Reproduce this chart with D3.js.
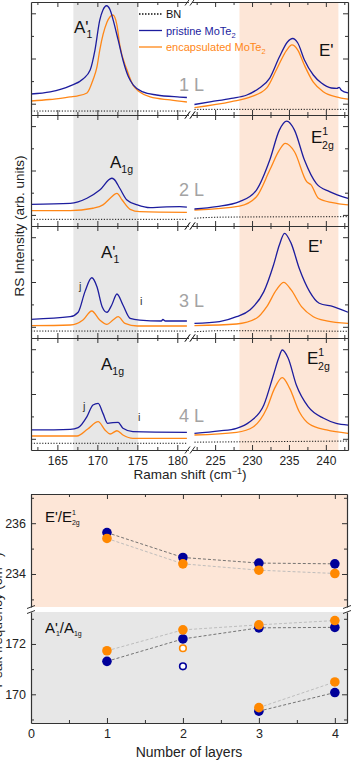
<!DOCTYPE html>
<html><head><meta charset="utf-8">
<script src="https://cdn.jsdelivr.net/npm/d3@7"></script>
<style>body{margin:0;background:#fff}svg{display:block;font-family:"Liberation Sans",Arial,Helvetica,sans-serif}</style>
</head><body><svg id="c" width="351" height="761"></svg>
<script>
// ===== DATA (Raman spectra, [shift cm-1, intensity arb. units]) =====
const layerLabels = ["1 L", "2 L", "3 L", "4 L"];
const pristine1L = [[161.7,18.6],[164.1,20.4],[166.6,25.7],[168.2,31.9],[169.1,39.8],[169.7,57.5],[170.3,84],[170.7,93],[171.15,96.7],[171.6,93],[171.98,84],[172.6,66.4],[173.2,48.7],[173.9,33.6],[174.5,26.5],[175.7,20.4],[177.4,17.7],[180.3,15.9],[181.2,15.5],
  [222.2,9.3],[224.5,11.8],[227.2,14.8],[229.3,17.7],[231,23.9],[232.4,32.7],[233.7,51.3],[234.8,64.6],[235.5,67.7],[236.2,63.7],[237.1,48.7],[238.3,35.4],[239.4,28.3],[240.75,23.9],[241.5,23.5],[241.8,24.5],[242.1,22],[243,19.5]];
const encap1L = [[161.7,12.4],[164,13.7],[166.6,16],[167.45,16.8],[168.7,19.5],[169.45,31],[169.95,42.5],[170.3,57.5],[171.2,82],[171.95,88.5],[172.45,79.6],[172.8,62],[173.7,40],[174.45,26.5],[175.3,20.4],[176.6,16],[179.1,13.3],[181.2,11.5],
  [222.2,6.5],[227.2,11.8],[229.9,16.2],[232,24],[233.3,40],[234.7,57.5],[235.4,62],[236.2,57.5],[237.1,44],[238.3,29],[239.7,20.4],[241.4,16],[243,14]];
const bn1L = [[161.7,3.5],[181.2,3.5],[222.2,5],[243,5]];

const pristine2L = [[161.7,19.5],[166.6,20.4],[168.7,25],[170.3,32.4],[171.8,43],[172.1,42],[172.8,34],[173.7,23.4],[175,19],[176.6,16.5],[178,17],[180.3,17.4],[181.2,17],
  [222.2,15.3],[225.2,17.4],[228.3,21.9],[230.6,32.4],[232.4,59.4],[233.7,86.4],[234.7,94.5],[235.75,86.4],[237.1,59.4],[238.7,38.4],[240.5,30.9],[243,24.9]];
const encap2L = [[161.7,13.8],[166.6,13.8],[169.45,16],[170.7,19],[171.6,25],[172.45,29.4],[173.1,23.4],[174.1,15],[175.3,12.9],[181.2,12.3],
  [222.2,14.4],[228.3,18],[230.6,26.4],[232.4,50.4],[233.7,68.4],[234.5,74.4],[235.75,66.9],[237.4,40],[238,37],[239,25],[240.9,21],[243,19]];
const bn2L = [[161.7,6],[181.2,6],[222.2,7],[226,8],[243,8.4]];

const pristine3L = [[161.7,16.7],[166.6,19],[167.6,23],[168.45,41.4],[169.3,53.8],[169.95,45.8],[170.6,28],[171.2,23],[171.8,29.5],[172.45,39.3],[173.2,29.5],[174.1,17.6],[175.3,16],[178,15.2],[178.2,16.5],[178.5,15.2],[181.2,15.2],
  [222.2,13],[225.6,14.6],[227.9,19],[229.7,25],[231.6,41.4],[232.9,65],[233.7,83],[234.4,93.5],[235.3,84.5],[236.4,62],[237.8,41.4],[239.1,31],[241,28],[243,23]];
const encap3L = [[161.7,11],[166.6,11.6],[168.2,16],[169.3,24.1],[170.3,16],[171.2,12.2],[171.95,16],[172.6,19],[173.45,13],[175,10.7],[181.2,10.7],
  [222.2,11],[227.9,12.5],[230.6,17.6],[232,28],[233.3,42.9],[234.3,49.7],[235.3,42.9],[236.7,28],[238.3,19],[240.1,15.2],[243,13]];
const bn3L = [[161.7,6.2],[181.2,6.2],[222.2,5.6],[226,6.5],[243,6]];

const pristine4L = [[161.7,17.9],[166.6,18.5],[167.6,20],[168.7,29.8],[169.45,40.2],[170.1,41.7],[170.7,32.7],[171.3,23.8],[171.95,24.4],[172.6,24.7],[173.2,19.4],[174.45,16.4],[181.2,15.8],
  [222.2,14.9],[225.6,17],[227.9,19.4],[229.7,25.3],[231.6,40.2],[232.9,67],[233.6,81.9],[234.1,89.3],[234.9,81.9],[236,58],[237.6,38.7],[239.7,28.3],[241.4,23.8],[243,22.3]];
const encap4L = [[161.7,12.5],[167.45,12.5],[168.8,18.8],[170.1,25.3],[170.95,17.9],[171.6,14.3],[172.45,17.2],[173.2,13.4],[174.45,10.4],[181.2,10.4],
  [222.2,13.4],[227.9,15.8],[230.2,20.8],[232,37.2],[233.05,55],[234.1,64.6],[235.1,55],[236.4,34.2],[237.8,23],[240.1,17.9],[243,14.9]];
const bn4L = [[161.7,6],[181.2,6],[222.2,7],[243,8]];

const xTicksLeft = [165, 170, 175, 180];
const xTicksRight = [225, 230, 235, 240];
const greyBand = [167, 175.1];
const peachBand = [228.3, 241.7];

// Peak positions vs number of layers
const layers = [1, 2, 3, 4];
const eModePristine = [235.63, 234.65, 234.43, 234.40];
const eModeEncap = [235.40, 234.40, 234.15, 234.02];
const aModePristine = [171.31, 172.20, 172.64, 172.66];
const aModeEncap = [171.73, 172.56, 172.76, 172.93];
const aLowPristine = [null, null, 169.33, 170.07];
const aLowEncap = [null, null, 169.47, 170.49];
const aOpenPristine = [null, 171.11, null, null];
const aOpenEncap = [null, 171.83, null, null];
const layerTicks = [0, 1, 2, 3, 4];
const eTicks = [234, 236];
const aTicks = [170, 172];

// ===== DRAWING =====
const svg = d3.select("#c");
const COL = {blue: "#1d1d9e", orange: "#ff8717", grey: "#e7e7e7", peach: "#fde6d7", dotB: "#00009a", dotO: "#ff8800", lbl: "#a3a3a3"};
const L = 31, R = 348, bx1 = 188.5, bx2 = 191.5;
const xL = d3.scaleLinear().domain([161.7, 181.4]).range([L, bx1]);
const xR = d3.scaleLinear().domain([221.8, 243]).range([bx2, R]);
const edges = [2, 115, 226, 338, 450];

// background bands
svg.append("rect").attr("x", xL(greyBand[0])).attr("width", xL(greyBand[1]) - xL(greyBand[0]))
  .attr("y", edges[0]).attr("height", edges[4] - edges[0]).attr("fill", COL.grey);
svg.append("rect").attr("x", xR(peachBand[0])).attr("width", xR(peachBand[1]) - xR(peachBand[0]))
  .attr("y", edges[0]).attr("height", edges[4] - edges[0]).attr("fill", COL.peach);

const panels = [
  {p: pristine1L, e: encap1L, bn: bn1L},
  {p: pristine2L, e: encap2L, bn: bn2L},
  {p: pristine3L, e: encap3L, bn: bn3L},
  {p: pristine4L, e: encap4L, bn: bn4L}
];

function styleAxis(g) {
  g.selectAll(".domain").attr("stroke", "#333").attr("stroke-width", 1.2);
  g.selectAll(".tick line").attr("stroke", "#333").attr("stroke-width", 1);
  g.selectAll(".tick text").attr("font-size", 12).attr("fill", "#222").attr("font-family", "Liberation Sans, Arial, sans-serif");
}
function minorOf(major, step) {
  const out = [];
  for (let i = 0; i < major.length; i++) out.push(major[i] - step);
  out.push(major[major.length - 1] + step);
  return out;
}

panels.forEach((pn, i) => {
  const top = edges[i], bot = edges[i + 1];
  const y = d3.scaleLinear().domain([0, 100]).range([bot, top]);
  const lineL = d3.line().x(d => xL(d[0])).y(d => y(d[1])).curve(d3.curveMonotoneX);
  const lineR = d3.line().x(d => xR(d[0])).y(d => y(d[1])).curve(d3.curveMonotoneX);
  const drawSeries = (data, color, dash, w) => {
    const left = data.filter(d => d[0] < 200), right = data.filter(d => d[0] > 200);
    [[left, lineL], [right, lineR]].forEach(([dd, ln]) => {
      svg.append("path").attr("d", ln(dd)).attr("fill", "none").attr("stroke", color)
        .attr("stroke-width", w).attr("stroke-dasharray", dash);
    });
  };
  drawSeries(pn.bn, "#111", "1.2,1.6", 1);
  drawSeries(pn.e, COL.orange, null, 1.3);
  drawSeries(pn.p, COL.blue, null, 1.3);

  // axes: bottom & top for each half
  const isLast = i === 3;
  [[xL, xTicksLeft, 2.5], [xR, xTicksRight, 2.5]].forEach(([sc, tv, st]) => {
    const gb = svg.append("g").attr("transform", `translate(0,${bot})`)
      .call(d3.axisBottom(sc).tickValues(tv).tickSizeInner(-5).tickSizeOuter(0).tickPadding(6)
        .tickFormat(isLast ? d3.format("d") : ""));
    styleAxis(gb);
    const gbm = svg.append("g").attr("transform", `translate(0,${bot})`)
      .call(d3.axisBottom(sc).tickValues(minorOf(tv, st).filter(v => v > sc.domain()[0] && v < sc.domain()[1])).tickSize(-3).tickFormat(""));
    styleAxis(gbm); gbm.select(".domain").remove();
    const gt = svg.append("g").attr("transform", `translate(0,${top})`)
      .call(d3.axisTop(sc).tickValues(tv).tickSizeInner(-5).tickSizeOuter(0).tickFormat(""));
    styleAxis(gt);
    const gtm = svg.append("g").attr("transform", `translate(0,${top})`)
      .call(d3.axisTop(sc).tickValues(minorOf(tv, st).filter(v => v > sc.domain()[0] && v < sc.domain()[1])).tickSize(-3).tickFormat(""));
    styleAxis(gtm); gtm.select(".domain").remove();
  });
  // y axes (left and right)
  const gy = svg.append("g").attr("transform", `translate(${L},0)`)
    .call(d3.axisLeft(y).tickValues([10, 50, 90]).tickSizeInner(-5).tickSizeOuter(0).tickFormat(""));
  styleAxis(gy);
  const gym = svg.append("g").attr("transform", `translate(${L},0)`)
    .call(d3.axisLeft(y).tickValues([30, 70]).tickSize(-3).tickFormat(""));
  styleAxis(gym); gym.select(".domain").remove();
  const gyr = svg.append("g").attr("transform", `translate(${R},0)`)
    .call(d3.axisRight(y).tickValues([10, 50, 90]).tickSizeInner(-5).tickSizeOuter(0).tickFormat(""));
  styleAxis(gyr);
  const gyrm = svg.append("g").attr("transform", `translate(${R},0)`)
    .call(d3.axisRight(y).tickValues([30, 70]).tickSize(-3).tickFormat(""));
  styleAxis(gyrm); gyrm.select(".domain").remove();

  // break marks
  [top, bot].forEach(yy => {
    [bx1 - 1, bx2 + 1].forEach(xx => {
      svg.append("line").attr("x1", xx - 2.5).attr("y1", yy + 3.5).attr("x2", xx + 2.5).attr("y2", yy - 3.5)
        .attr("stroke", "#333").attr("stroke-width", 1);
    });
  });

  // layer label
  const lblY = [91, 196, 307, 422][i];
  svg.append("text").attr("x", 179).attr("y", lblY).attr("font-size", 18).attr("fill", COL.lbl).text(layerLabels[i]);
});

// peak labels
function primeSub(x, yb, base, sub, fs) {
  const t = svg.append("text").attr("x", x).attr("y", yb).attr("font-size", fs).attr("fill", "#111");
  t.append("tspan").text(base);
  t.append("tspan").attr("font-size", fs * 0.62).attr("dx", -2).attr("dy", fs * 0.3).text(sub);
}
function subOnly(x, yb, base, sub, fs) {
  const t = svg.append("text").attr("x", x).attr("y", yb).attr("font-size", fs).attr("fill", "#111");
  t.append("tspan").text(base);
  t.append("tspan").attr("font-size", fs * 0.62).attr("dy", fs * 0.3).text(sub);
}
function supSub(x, yb, base, sup, sub, fs) {
  const t = svg.append("text").attr("x", x).attr("y", yb).attr("font-size", fs).attr("fill", "#111");
  t.append("tspan").text(base);
  t.append("tspan").attr("font-size", fs * 0.62).attr("dy", -fs * 0.45).text(sup);
  t.append("tspan").attr("font-size", fs * 0.62).attr("dx", -fs * 0.36).attr("dy", fs * 0.8).text(sub);
}
primeSub(74, 33, "A'", "1", 17);
svg.append("text").attr("x", 319).attr("y", 56).attr("font-size", 17).attr("fill", "#111").text("E'");
subOnly(110, 168, "A", "1g", 17);
supSub(311, 143, "E", "1", "2g", 17);
primeSub(101, 258, "A'", "1", 17);
svg.append("text").attr("x", 308).attr("y", 252).attr("font-size", 17).attr("fill", "#111").text("E'");
subOnly(101, 370, "A", "1g", 17);
supSub(307, 364, "E", "1", "2g", 17);
[[79, 290, "j"], [140, 305, "i"], [83, 410, "j"], [138, 421, "i"]].forEach(d =>
  svg.append("text").attr("x", d[0]).attr("y", d[1]).attr("font-size", 11).attr("fill", "#333").text(d[2]));

// legend
const leg = [
  {t: "BN", c: "#111", dash: "1.5,1.5", tc: "#111"},
  {t: "pristine MoTe", c: COL.blue, dash: null, tc: COL.blue},
  {t: "encapsulated MoTe", c: COL.orange, dash: null, tc: COL.orange}
];
leg.forEach((d, k) => {
  const yy = 14 + k * 16.5;
  svg.append("line").attr("x1", 139).attr("x2", 162).attr("y1", yy).attr("y2", yy)
    .attr("stroke", d.c).attr("stroke-width", 1.3).attr("stroke-dasharray", d.dash);
  const t = svg.append("text").attr("x", 166).attr("y", yy + 4).attr("font-size", 11).attr("fill", d.tc);
  t.append("tspan").text(d.t);
  if (k > 0) t.append("tspan").attr("font-size", 7.5).attr("dy", 3).text("2");
});

// axis titles
svg.append("text").attr("transform", "translate(24,226) rotate(-90)").attr("text-anchor", "middle")
  .attr("font-size", 13.5).attr("fill", "#222").text("RS Intensity (arb. units)");
const xt = svg.append("text").attr("x", 190).attr("y", 479).attr("text-anchor", "middle").attr("font-size", 13.5).attr("fill", "#222");
xt.append("tspan").text("Raman shift (cm");
xt.append("tspan").attr("font-size", 9).attr("dy", -5).text("−1");
xt.append("tspan").attr("dy", 5).text(")");

// ===== Bottom chart =====
const xB = d3.scaleLinear().domain([0, 4.16]).range([31, 347]);
const yT = d3.scaleLinear().domain([232.7, 237.15]).range([607, 494]);
const yB = d3.scaleLinear().domain([168.86, 173.27]).range([723, 612]);
svg.append("rect").attr("x", 31).attr("y", yT.range()[1]).attr("width", 316).attr("height", yT.range()[0] - yT.range()[1]).attr("fill", COL.peach);
svg.append("rect").attr("x", 31).attr("y", yB.range()[1]).attr("width", 316).attr("height", yB.range()[0] - yB.range()[1]).attr("fill", COL.grey);

function connect(vals, ys, color) {
  const pts = layers.map((l, k) => [l, vals[k]]).filter(d => d[1] != null);
  svg.append("path").attr("d", d3.line().x(d => xB(d[0])).y(d => ys(d[1]))(pts))
    .attr("fill", "none").attr("stroke", color).attr("stroke-width", 0.9).attr("stroke-dasharray", "3,2");
}
connect(eModePristine, yT, "#666");
connect(eModeEncap, yT, "#b8b8b8");
connect(aModePristine, yB, "#666");
connect(aModeEncap, yB, "#b8b8b8");
connect(aLowPristine, yB, "#666");
connect(aLowEncap, yB, "#b8b8b8");

function dots(vals, ys, color, open) {
  layers.forEach((l, k) => {
    if (vals[k] == null) return;
    const c = svg.append("circle").attr("cx", xB(l)).attr("cy", ys(vals[k]));
    if (open) c.attr("r", 3.3).attr("fill", "#fff").attr("stroke", color).attr("stroke-width", 1.6);
    else c.attr("r", 4.8).attr("fill", color);
  });
}
dots(eModePristine, yT, COL.dotB); dots(eModeEncap, yT, COL.dotO);
dots(aModePristine, yB, COL.dotB); dots(aLowPristine, yB, COL.dotB);
dots(aModeEncap, yB, COL.dotO); dots(aLowEncap, yB, COL.dotO);
dots(aOpenPristine, yB, COL.dotB, true); dots(aOpenEncap, yB, COL.dotO, true);

// bottom chart axes
const gxb = svg.append("g").attr("transform", `translate(0,${yB.range()[0]})`)
  .call(d3.axisBottom(xB).tickValues(layerTicks).tickSizeInner(-5).tickSizeOuter(0).tickPadding(6).tickFormat(d3.format("d")));
styleAxis(gxb); gxb.selectAll(".tick text").attr("font-size", 12.5);
const gxbm = svg.append("g").attr("transform", `translate(0,${yB.range()[0]})`)
  .call(d3.axisBottom(xB).tickValues([0.5, 1.5, 2.5, 3.5]).tickSize(-3).tickFormat(""));
styleAxis(gxbm); gxbm.select(".domain").remove();
const gxt = svg.append("g").attr("transform", `translate(0,${yT.range()[1]})`)
  .call(d3.axisTop(xB).tickValues(layerTicks).tickSizeInner(-5).tickSizeOuter(0).tickFormat(""));
styleAxis(gxt);
const gxtm = svg.append("g").attr("transform", `translate(0,${yT.range()[1]})`)
  .call(d3.axisTop(xB).tickValues([0.5, 1.5, 2.5, 3.5]).tickSize(-3).tickFormat(""));
styleAxis(gxtm); gxtm.select(".domain").remove();

[[yT, eTicks, [233, 235, 237]], [yB, aTicks, [169, 171, 173]]].forEach(([ys, tv, mv]) => {
  const g1 = svg.append("g").attr("transform", "translate(31,0)")
    .call(d3.axisLeft(ys).tickValues(tv).tickSizeInner(-5).tickSizeOuter(0).tickPadding(5).tickFormat(d3.format("d")));
  styleAxis(g1); g1.selectAll(".tick text").attr("font-size", 12.5);
  const g1m = svg.append("g").attr("transform", "translate(31,0)")
    .call(d3.axisLeft(ys).tickValues(mv).tickSize(-3).tickFormat(""));
  styleAxis(g1m); g1m.select(".domain").remove();
  const g2 = svg.append("g").attr("transform", "translate(347,0)")
    .call(d3.axisRight(ys).tickValues(tv).tickSizeInner(-5).tickSizeOuter(0).tickFormat(""));
  styleAxis(g2);
  const g2m = svg.append("g").attr("transform", "translate(347,0)")
    .call(d3.axisRight(ys).tickValues(mv).tickSize(-3).tickFormat(""));
  styleAxis(g2m); g2m.select(".domain").remove();
});
// y-axis break marks
[31, 347].forEach(xx => {
  [607, 612].forEach(yy => {
    svg.append("line").attr("x1", xx - 4).attr("y1", yy + 1.5).attr("x2", xx + 4).attr("y2", yy - 1.5)
      .attr("stroke", "#333").attr("stroke-width", 1);
  });
});

// bottom chart labels
const lt = svg.append("text").attr("x", 45).attr("y", 522).attr("font-size", 15).attr("fill", "#111");
lt.append("tspan").text("E'/E");
lt.append("tspan").attr("font-size", 7).attr("dy", -7).text("1");
lt.append("tspan").attr("font-size", 7).attr("dx", -4).attr("dy", 10).text("2g");
const lb = svg.append("text").attr("x", 45).attr("y", 633).attr("font-size", 15).attr("fill", "#111");
lb.append("tspan").text("A'");
lb.append("tspan").attr("font-size", 7).attr("dx", -2).attr("dy", 3).text("1");
lb.append("tspan").attr("dy", -3).text("/A");
lb.append("tspan").attr("font-size", 7).attr("dy", 3).text("1g");

svg.append("text").attr("x", 189).attr("y", 757).attr("text-anchor", "middle").attr("font-size", 14).attr("fill", "#222").text("Number of layers");
const yl = svg.append("text").attr("transform", "translate(2,620) rotate(-90)").attr("text-anchor", "middle").attr("font-size", 13.5).attr("fill", "#222");
yl.append("tspan").text("Peak frequency (cm");
yl.append("tspan").attr("font-size", 9).attr("dy", -5).text("−1");
yl.append("tspan").attr("dy", 5).text(")");
</script></body></html>
